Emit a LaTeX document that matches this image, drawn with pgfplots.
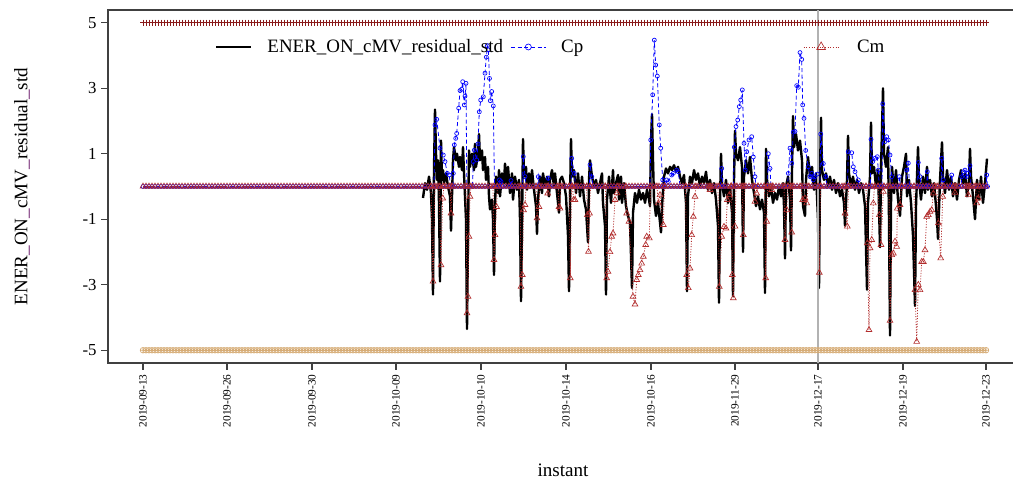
\documentclass[border=0pt]{standalone}
\usepackage{fontspec}
\setmainfont{Liberation Serif}
\usepackage{pgfplots}
\pgfplotsset{compat=1.18}
\usepackage{pgfplotstable}
\usetikzlibrary{plotmarks}

\definecolor{cpblue}{RGB}{0,0,255}
\definecolor{cmred}{RGB}{178,45,45}
\definecolor{upred}{RGB}{139,26,26}
\definecolor{lotan}{RGB}{214,172,118}
\definecolor{ulc}{RGB}{110,30,110}

% x = instant index (plot units), limit bands at +-5 and zero band for Cp/Cm
\pgfplotstableread[row sep=\\]{
x up lo z\\
143 5 -5 0\\ 146 5 -5 0\\ 149 5 -5 0\\ 152 5 -5 0\\ 155 5 -5 0\\ 158 5 -5 0\\ 161 5 -5 0\\ 164 5 -5 0\\ 167 5 -5 0\\ 170 5 -5 0\\
173 5 -5 0\\ 176 5 -5 0\\ 179 5 -5 0\\ 182 5 -5 0\\ 185 5 -5 0\\ 188 5 -5 0\\ 191 5 -5 0\\ 194 5 -5 0\\ 197 5 -5 0\\ 200 5 -5 0\\
203 5 -5 0\\ 206 5 -5 0\\ 209 5 -5 0\\ 212 5 -5 0\\ 215 5 -5 0\\ 218 5 -5 0\\ 221 5 -5 0\\ 224 5 -5 0\\ 227 5 -5 0\\ 230 5 -5 0\\
233 5 -5 0\\ 236 5 -5 0\\ 239 5 -5 0\\ 242 5 -5 0\\ 245 5 -5 0\\ 248 5 -5 0\\ 251 5 -5 0\\ 254 5 -5 0\\ 257 5 -5 0\\ 260 5 -5 0\\
263 5 -5 0\\ 266 5 -5 0\\ 269 5 -5 0\\ 272 5 -5 0\\ 275 5 -5 0\\ 278 5 -5 0\\ 281 5 -5 0\\ 284 5 -5 0\\ 287 5 -5 0\\ 290 5 -5 0\\
293 5 -5 0\\ 296 5 -5 0\\ 299 5 -5 0\\ 302 5 -5 0\\ 305 5 -5 0\\ 308 5 -5 0\\ 311 5 -5 0\\ 314 5 -5 0\\ 317 5 -5 0\\ 320 5 -5 0\\
323 5 -5 0\\ 326 5 -5 0\\ 329 5 -5 0\\ 332 5 -5 0\\ 335 5 -5 0\\ 338 5 -5 0\\ 341 5 -5 0\\ 344 5 -5 0\\ 347 5 -5 0\\ 350 5 -5 0\\
353 5 -5 0\\ 356 5 -5 0\\ 359 5 -5 0\\ 362 5 -5 0\\ 365 5 -5 0\\ 368 5 -5 0\\ 371 5 -5 0\\ 374 5 -5 0\\ 377 5 -5 0\\ 380 5 -5 0\\
383 5 -5 0\\ 386 5 -5 0\\ 389 5 -5 0\\ 392 5 -5 0\\ 395 5 -5 0\\ 398 5 -5 0\\ 401 5 -5 0\\ 404 5 -5 0\\ 407 5 -5 0\\ 410 5 -5 0\\
413 5 -5 0\\ 416 5 -5 0\\ 419 5 -5 0\\ 422 5 -5 0\\ 425 5 -5 0\\ 428 5 -5 0\\ 431 5 -5 0\\ 434 5 -5 0\\ 437 5 -5 0\\ 440 5 -5 0\\
443 5 -5 0\\ 446 5 -5 0\\ 449 5 -5 0\\ 452 5 -5 0\\ 455 5 -5 0\\ 458 5 -5 0\\ 461 5 -5 0\\ 464 5 -5 0\\ 467 5 -5 0\\ 470 5 -5 0\\
473 5 -5 0\\ 476 5 -5 0\\ 479 5 -5 0\\ 482 5 -5 0\\ 485 5 -5 0\\ 488 5 -5 0\\ 491 5 -5 0\\ 494 5 -5 0\\ 497 5 -5 0\\ 500 5 -5 0\\
503 5 -5 0\\ 506 5 -5 0\\ 509 5 -5 0\\ 512 5 -5 0\\ 515 5 -5 0\\ 518 5 -5 0\\ 521 5 -5 0\\ 524 5 -5 0\\ 527 5 -5 0\\ 530 5 -5 0\\
533 5 -5 0\\ 536 5 -5 0\\ 539 5 -5 0\\ 542 5 -5 0\\ 545 5 -5 0\\ 548 5 -5 0\\ 551 5 -5 0\\ 554 5 -5 0\\ 557 5 -5 0\\ 560 5 -5 0\\
563 5 -5 0\\ 566 5 -5 0\\ 569 5 -5 0\\ 572 5 -5 0\\ 575 5 -5 0\\ 578 5 -5 0\\ 581 5 -5 0\\ 584 5 -5 0\\ 587 5 -5 0\\ 590 5 -5 0\\
593 5 -5 0\\ 596 5 -5 0\\ 599 5 -5 0\\ 602 5 -5 0\\ 605 5 -5 0\\ 608 5 -5 0\\ 611 5 -5 0\\ 614 5 -5 0\\ 617 5 -5 0\\ 620 5 -5 0\\
623 5 -5 0\\ 626 5 -5 0\\ 629 5 -5 0\\ 632 5 -5 0\\ 635 5 -5 0\\ 638 5 -5 0\\ 641 5 -5 0\\ 644 5 -5 0\\ 647 5 -5 0\\ 650 5 -5 0\\
653 5 -5 0\\ 656 5 -5 0\\ 659 5 -5 0\\ 662 5 -5 0\\ 665 5 -5 0\\ 668 5 -5 0\\ 671 5 -5 0\\ 674 5 -5 0\\ 677 5 -5 0\\ 680 5 -5 0\\
683 5 -5 0\\ 686 5 -5 0\\ 689 5 -5 0\\ 692 5 -5 0\\ 695 5 -5 0\\ 698 5 -5 0\\ 701 5 -5 0\\ 704 5 -5 0\\ 707 5 -5 0\\ 710 5 -5 0\\
713 5 -5 0\\ 716 5 -5 0\\ 719 5 -5 0\\ 722 5 -5 0\\ 725 5 -5 0\\ 728 5 -5 0\\ 731 5 -5 0\\ 734 5 -5 0\\ 737 5 -5 0\\ 740 5 -5 0\\
743 5 -5 0\\ 746 5 -5 0\\ 749 5 -5 0\\ 752 5 -5 0\\ 755 5 -5 0\\ 758 5 -5 0\\ 761 5 -5 0\\ 764 5 -5 0\\ 767 5 -5 0\\ 770 5 -5 0\\
773 5 -5 0\\ 776 5 -5 0\\ 779 5 -5 0\\ 782 5 -5 0\\ 785 5 -5 0\\ 788 5 -5 0\\ 791 5 -5 0\\ 794 5 -5 0\\ 797 5 -5 0\\ 800 5 -5 0\\
803 5 -5 0\\ 806 5 -5 0\\ 809 5 -5 0\\ 812 5 -5 0\\ 815 5 -5 0\\ 818 5 -5 0\\ 821 5 -5 0\\ 824 5 -5 0\\ 827 5 -5 0\\ 830 5 -5 0\\
833 5 -5 0\\ 836 5 -5 0\\ 839 5 -5 0\\ 842 5 -5 0\\ 845 5 -5 0\\ 848 5 -5 0\\ 851 5 -5 0\\ 854 5 -5 0\\ 857 5 -5 0\\ 860 5 -5 0\\
863 5 -5 0\\ 866 5 -5 0\\ 869 5 -5 0\\ 872 5 -5 0\\ 875 5 -5 0\\ 878 5 -5 0\\ 881 5 -5 0\\ 884 5 -5 0\\ 887 5 -5 0\\ 890 5 -5 0\\
893 5 -5 0\\ 896 5 -5 0\\ 899 5 -5 0\\ 902 5 -5 0\\ 905 5 -5 0\\ 908 5 -5 0\\ 911 5 -5 0\\ 914 5 -5 0\\ 917 5 -5 0\\ 920 5 -5 0\\
923 5 -5 0\\ 926 5 -5 0\\ 929 5 -5 0\\ 932 5 -5 0\\ 935 5 -5 0\\ 938 5 -5 0\\ 941 5 -5 0\\ 944 5 -5 0\\ 947 5 -5 0\\ 950 5 -5 0\\
953 5 -5 0\\ 956 5 -5 0\\ 959 5 -5 0\\ 962 5 -5 0\\ 965 5 -5 0\\ 968 5 -5 0\\ 971 5 -5 0\\ 974 5 -5 0\\ 977 5 -5 0\\ 980 5 -5 0\\
983 5 -5 0\\ 986 5 -5 0\\
}\bands

\begin{document}
\begin{tikzpicture}
\begin{axis}[
  scale only axis, width=683.25pt, height=264.75pt,
  xmin=108, xmax=1019, ymin=-5.39, ymax=5.39,
  axis line style={black!75, line width=0.8pt},
  tick style={black!75, line width=0.8pt},
  tick align=outside, major tick length=5pt,
  xtick pos=lower, ytick pos=left,
  xtick={143,227,312,396,481,566,651,735,818,903,986},
  xticklabels={2019-09-13,2019-09-26,2019-09-30,2019-10-09,2019-10-10,2019-10-14,2019-10-16,2019-11-29,2019-12-17,2019-12-19,2019-12-23},
  xticklabel style={font=\fontsize{8.5}{10}\selectfont, rotate=90, anchor=east},
  ytick={-5,-3,-1,1,3,5},
  yticklabels={-5,-3,-1,1,3,5},
  yticklabel style={font=\fontsize{12.6}{14}\selectfont},
  xlabel={instant},
  xlabel style={font=\fontsize{14.3}{16}\selectfont, at={(axis description cs:0.4995,-0.303)}, anchor=center},
  ylabel={ENER\textcolor{ulc}{\_}ON\textcolor{ulc}{\_}cMV\textcolor{ulc}{\_}residual\textcolor{ulc}{\_}std},
  ylabel style={font=\fontsize{14.3}{16}\selectfont, at={(axis description cs:-0.0944,0.5)}, anchor=center},
  legend columns=3,
  legend cell align=left,
  legend style={draw=none, fill=none, inner sep=0pt, outer sep=0pt,
    at={(axis description cs:0.1175,0.8952)}, anchor=west,
    font=\fontsize{14.2}{16}\selectfont, nodes={inner sep=0pt}, /tikz/column sep=0pt},
  legend image code/.code={\draw[mark repeat=2,mark phase=2,#1,every mark/.append style={scale=1.5}] plot coordinates {(0pt,0pt) (13.125pt,0pt) (26.25pt,0pt)};},
]

% standardised residual
\addplot[black, line width=1.8pt, line join=round] coordinates {
(423,-0.35)(425,0.1)(427,-0.1)(429,0.3)(431,-0.2)(432,-1.0)(433,-3.3)(434,0.5)(435,2.35)(436,1.0)(437,0.2)(438,0.8)(439,-0.5)(440,-2.9)(441,1.4)(442,0.2)(443,0.5)(444,0.1)(446,0.4)(448,0.0)(450,-0.3)(451,-1.35)(452,-0.3)(453,0.8)(454,1.2)(456,0.8)(457,1.0)(459,0.6)(460,0.9)(462,0.5)(463,1.2)(464,0.4)(466,-1.0)(467,-4.35)(468,-1.5)(469,1.1)(470,0.6)(472,1.0)(474,0.5)(475,1.3)(476,0.6)(478,1.0)(479,1.6)(480,0.8)(482,1.1)(483,0.5)(485,0.9)(486,0.2)(488,0.6)(489,-0.3)(490,-0.7)(492,-0.4)(493,-1.0)(494,-2.7)(495,-0.6)(496,0.3)(498,-0.2)(499,0.5)(500,-0.3)
(502,0.4)(504,0.1)(505,0.7)(507,0.0)(508,0.6)(510,-0.2)(512,0.4)(513,-0.4)(515,0.3)(517,-0.1)(519,0.2)(520,-1.0)(521,-3.5)(522,-1.2)(523,1.45)(524,0.3)(526,0.6)(527,-0.1)(529,0.4)(531,0.0)(532,0.5)(534,-0.1)(536,-0.6)(537,-1.45)(538,-0.4)(540,0.3)(542,-0.2)(543,0.4)(545,0.0)(547,0.3)(549,-0.3)(550,0.2)(552,0.5)(554,0.0)(555,0.4)(557,-0.2)(559,-0.8)(560,0.2)(562,0.3)(564,0.1)(566,-0.3)(568,-1.5)(569,-3.2)(570,-0.5)(571,1.45)(572,0.3)(574,0.5)(576,-0.2)(578,0.4)(580,-0.3)(582,0.3)(584,-0.4)(586,-0.7)(588,-1.7)(589,0.2)(590,0.8)(592,0.3)(594,0.0)(596,0.2)(598,-0.2)(600,0.1)
(602,0.4)(603,-0.5)(605,-1.2)(606,-3.3)(607,-0.4)(609,0.3)(611,-0.5)(613,0.5)(614,-0.2)(616,0.1)(618,0.35)(619,-0.4)(621,0.3)(622,-0.5)(624,0.1)(626,-0.6)(628,-0.9)(630,-1.1)(632,-3.1)(633,-0.8)(635,-0.2)(637,-0.5)(639,-0.1)(641,-0.4)(643,-0.2)(645,-0.5)(647,-0.1)(649,-0.4)(650,-0.6)(651,1.4)(652,2.2)(653,0.8)(654,-0.4)(656,-0.9)(658,-0.5)(660,-1.1)(661,-1.4)(662,-0.6)(664,0.3)(666,0.55)(668,0.4)(670,0.6)(672,0.5)(674,0.65)(676,0.45)(678,0.6)(680,0.3)(682,0.1)(684,0.35)(686,-0.5)(687,-3.2)(688,-0.3)(690,0.3)(692,0.1)(694,0.5)(696,0.2)(698,0.4)(700,0.0)
(702,0.3)(704,0.1)(706,0.45)(708,-0.1)(710,0.2)(712,-0.2)(714,0.1)(716,-0.4)(718,-1.2)(719,-3.55)(720,-0.5)(721,1.0)(722,0.1)(724,-0.3)(726,0.2)(728,-0.5)(730,0.0)(732,-0.8)(733,-3.35)(734,0.2)(735,1.7)(736,1.0)(738,0.8)(740,1.2)(742,0.6)(743,-2.0)(744,0.3)(746,0.8)(748,0.4)(750,0.9)(752,0.2)(754,-0.2)(756,-0.6)(758,-0.3)(760,-0.7)(762,-0.4)(764,-0.8)(765,-3.25)(766,1.15)(767,0.2)(769,-0.3)(771,0.0)(773,-0.5)(775,-0.2)(777,-0.4)(779,0.0)(781,-0.3)(783,0.1)(784,-0.6)(785,-2.2)(786,0.0)(788,0.3)(790,-0.4)(791,-1.95)(792,0.5)(793,2.15)(794,1.2)(796,1.6)(798,1.1)(800,1.4)
(802,0.8)(803,-0.6)(805,-0.9)(806,0.2)(808,0.9)(810,0.3)(812,0.6)(814,-0.1)(816,0.4)(818,-1.0)(819,-3.1)(820,0.4)(821,2.1)(822,0.5)(824,0.2)(826,0.4)(828,0.0)(830,0.3)(832,-0.1)(834,0.2)(836,-0.2)(838,0.1)(840,-0.3)(842,-0.1)(844,-0.5)(845,-1.2)(847,0.2)(848,1.55)(849,0.4)(851,0.0)(853,0.3)(855,-0.1)(857,0.2)(859,-0.2)(861,0.1)(863,-0.1)(865,-0.6)(867,-3.15)(868,-0.5)(870,0.3)(871,1.95)(872,0.4)(874,0.6)(876,0.0)(878,0.5)(879,-0.6)(880,-1.85)(881,0.5)(883,3.0)(884,1.0)(886,0.6)(888,1.2)(889,-1.0)(890,-4.55)(891,-0.5)(892,0.6)(894,-0.2)(896,0.5)(898,-0.4)(900,-0.9)
(902,0.3)(904,0.6)(906,1.0)(907,-0.3)(909,0.2)(911,-0.5)(913,-1.5)(915,-3.65)(916,-0.6)(918,1.2)(919,0.2)(921,-0.4)(923,0.3)(925,-0.2)(927,0.6)(928,-0.1)(930,0.2)(932,-0.3)(934,0.1)(936,-0.6)(937,-1.0)(938,-1.6)(940,0.2)(942,1.35)(943,0.3)(945,-0.2)(947,0.5)(949,-0.1)(951,0.3)(953,-0.3)(955,0.1)(957,-0.4)(959,0.2)(961,0.5)(963,0.1)(965,0.4)(967,-0.3)(969,0.2)(970,1.15)(971,0.3)(973,-0.3)(975,-1.0)(977,0.2)(979,-0.4)(981,0.3)(983,-0.5)(985,0.1)(987,0.85)
};
\addlegendentry{\makebox[193.5pt][l]{\hspace{11.25pt}ENER\_ON\_cMV\_residual\_std}}

% Cp (upper cusum)
\addplot[cpblue, line width=0.6pt, dash pattern=on 3pt off 2pt, mark=o, mark size=1.5pt, mark options={solid, line width=0.5pt}] coordinates {
(434,0)(435,1.88)(436.7,2.05)(440,1.17)(443.3,0.96)(445,0.76)(447.3,0.4)(449.3,0.35)(450.5,0)
(453,0)(453.3,0.4)(454.3,1.27)(455.7,1.47)(456.7,1.62)(458.7,2.39)(460,2.93)(461.7,2.97)(462.7,3.2)(464.3,2.49)(465,2.76)(466,3.15)(466.8,0)
(472.5,0)(473.3,0.76)(474.3,1.11)(476.7,0.81)(478,1.3)(479.3,2.28)(480.7,2.64)(483.3,2.74)(485,3.46)(486.3,3.95)(487.3,4.3)(488.3,4.17)(489.5,3.3)(490.3,2.62)(491.7,2.9)(493.3,2.46)(494.5,0)
(498.5,0)(499.5,0.2)(501,0.15)(502,0)(510,0)(511,0.18)(512,0)
(522.5,0)(523.3,0.91)(525,0.3)(526.5,0)(537.5,0)(538.3,0.3)(539.5,0)(547.5,0)(548.3,0.25)(549.5,0)
(571,0)(571.7,0.86)(574.3,0.4)(575.5,0)(589.5,0)(590,0.66)(591.7,0.3)(593,0)
(650,0)(650.7,1.42)(652.7,2.8)(654.3,4.47)(655.7,3.71)(657.3,3.37)(659.3,1.88)(660.7,1.17)(662.7,0.2)(663.5,0)
(665,0)(666.7,0.2)(668.3,0.15)(671.7,0.35)(673.3,0.4)(676.7,0.5)(678.3,0.45)(680,0)
(720.5,0)(721.7,0.55)(723,0)
(733.5,0)(734.3,1.2)(736,1.83)(737.7,2.03)(739.3,2.44)(740.7,2.64)(742.3,2.95)(744,1.32)(745.3,0.5)(746.7,1.06)(749,1.42)(751.7,1.52)(753.3,0.9)(755,0.3)(756,0)
(767.5,0)(768.3,1.0)(770,0.55)(771,0)
(787.5,0)(788.3,0.4)(790,1.17)(791.7,0.71)(793.3,1.66)(795,1.68)(796.7,3.08)(798.3,3.03)(800,4.09)(801.7,3.88)(802.7,2.49)(804,2.08)(805.7,1.1)(808.3,0.6)(810,0.3)(811.7,0.4)(813.3,0.2)(815,0.3)(817.3,0.38)(818.3,0)
(819.8,0)(820.7,1.6)(823.3,0.7)(825.7,0.3)(827,0)
(847.5,0)(848.3,1.06)(851.7,1.03)(853.3,0.6)(855,0.45)(858.3,0.2)(859.5,0)
(870.3,0)(871,1.44)(872.7,0.76)(875,0.86)(877.3,0.91)(878.3,0.5)(879.3,0)
(882,0)(882.7,2.52)(885,1.37)(886.7,1.52)(888.3,1.42)(890,0.96)(891.7,0.3)(892.5,0)
(898.5,0)(899.3,0.3)(900.5,0)(905.5,0)(906.7,0.5)(908.3,0.71)(909.5,0)
(917.5,0)(918.3,0.73)(920,0.3)(921,0)(926.5,0)(927.3,0.45)(928.3,0)
(941,0)(941.7,0.86)(943.3,0.2)(944,0)(951,0)(951.7,0.35)(952.5,0)
(961,0)(961.7,0.3)(963.3,0.45)(965,0.5)(966.5,0.3)(968,0.4)(970,0.63)(971,0)
(986,0)(986.7,0.35)(987.5,0)
};
\addlegendentry{\makebox[192.75pt][l]{\hspace{11.25pt}Cp}}
\addplot[cpblue, line width=0.6pt, dash pattern=on 3pt off 2pt, mark=o, mark size=1.5pt, mark options={solid, line width=0.5pt}, forget plot] table[x=x, y=z] {\bands};

% Cm (lower cusum)
\addplot[cmred, line width=0.6pt, dash pattern=on 0.8pt off 1.2pt, mark=triangle, mark size=2.5pt, mark options={solid, line width=0.5pt}] coordinates {
(431,0)(433,-2.9)(435,0)(439,0)(441,-2.4)(442.7,-0.36)(444,0)(450,0)(451,-0.82)(452,0)
(466,0)(467,-3.87)(468,-3.36)(469,-1.53)(470,-0.31)(471,0)
(493,0)(494,-2.24)(495,-1.48)(496.5,-0.62)(497.5,0)
(520,0)(521,-3.06)(522.3,-2.7)(523.5,-0.72)(525,-0.56)(526,0)
(536,0)(537,-0.97)(539,-0.62)(540,0)(547,0)(547.7,-0.21)(548.5,0)
(558,0)(559,-0.62)(560,-0.67)(561,0)(569,0)(570.3,-2.8)(571.5,0)(572.5,0)(573.5,-0.41)(575,-0.41)(576,0)
(586.5,0)(587.3,-0.87)(588.5,-1.99)(589.5,-0.82)(590.5,0)
(605.5,0)(606.7,-2.8)(608,-2.6)(610,-2.0)(611.7,-1.53)(613,-1.43)(615,-0.41)(617,-0.2)(618,0)
(625.5,0)(626.7,-0.82)(629,-1.07)(633,-3.36)(635,-3.6)(636.7,-2.85)(638.3,-2.7)(640,-2.55)(641.7,-2.35)(643.3,-2.14)(645.7,-1.78)(646.7,-1.53)(649.3,-1.58)(650.5,0)
(657,0)(658.3,-0.51)(660,-0.26)(663.3,-1.17)(664.5,0)
(685.5,0)(686.7,-2.7)(688.3,-3.1)(690,-2.5)(691.7,-1.48)(693.3,-0.92)(695,-0.31)(696,0)
(709,0)(710,-0.1)(711,0)
(718,0)(719.3,-3.06)(721.7,-1.53)(724,-1.23)(726,-1.28)(727.3,-0.41)(729.3,-0.26)(731,0)
(731.5,0)(732.3,-2.7)(733.3,-3.41)(735,-1.22)(736,0)(742,0)(743.3,-1.48)(744.5,0)
(754,0)(755,-0.46)(756.7,-0.21)(758,0)(764.5,0)(765.7,-2.8)(766.7,-1.07)(767.5,0)(771,0)(771.7,-0.1)(772.5,0)
(784,0)(785,-1.63)(786.7,-0.72)(788,0)(790.5,0)(791.7,-1.4)(792.5,0)
(801,0)(802.7,-0.41)(805,-0.36)(806.7,-0.51)(808,0)(818,0)(819.3,-2.63)(820.5,0)
(844,0)(845,-0.82)(847.3,-1.22)(848.5,0)
(866,0)(867.3,-1.73)(869,-4.38)(870,-1.88)(871.7,-1.63)(873.3,-0.51)(874.5,0)
(878,0)(879.3,-0.87)(881,-1.78)(883.3,-0.16)(884,0)
(889,0)(890,-4.1)(891.7,-2.09)(893.3,-2.04)(895,-1.68)(896.7,-1.84)(897.3,-0.67)(900,-0.56)(901.5,0)
(914,0)(915,-3.16)(916.7,-4.74)(918.3,-3.0)(920,-3.16)(921.7,-2.3)(923.3,-2.3)(925,-1.94)(926.7,-0.92)(928.3,-0.87)(930,-0.77)(931.7,-0.72)(933.3,-0.21)(934.5,0)
(937,0)(938.3,-1.12)(940.7,-2.19)(942.7,-0.31)(943.5,0)(954,0)(955,-0.19)(956,0)
(967,0)(968.3,-0.26)(969.5,0)(975.5,0)(976.7,-0.51)(978.3,-0.36)(979.5,0)
};
\addlegendentry{\hspace{13.5pt}Cm}
\addplot[cmred, line width=0.6pt, dash pattern=on 0.8pt off 1.2pt, mark=triangle, mark size=2.5pt, mark options={solid, line width=0.5pt}, forget plot] table[x=x, y=z] {\bands};

% limits
\addplot[upred, line width=0.5pt, mark=+, mark size=2.25pt, forget plot] table[x=x, y=up] {\bands};
\addplot[lotan, line width=0.5pt, mark=oplus, mark size=2.1pt, forget plot] table[x=x, y=lo] {\bands};

% marker line
\addplot[black!30, line width=1.2pt, forget plot] coordinates {(818,-5.39) (818,5.39)};

\coordinate (bbsw) at (axis cs:0,-9.024);
\coordinate (bbne) at (axis cs:1013,5.695);
\end{axis}
\pgfresetboundingbox
\useasboundingbox (bbsw) rectangle (bbne);
\end{tikzpicture}
\end{document}
